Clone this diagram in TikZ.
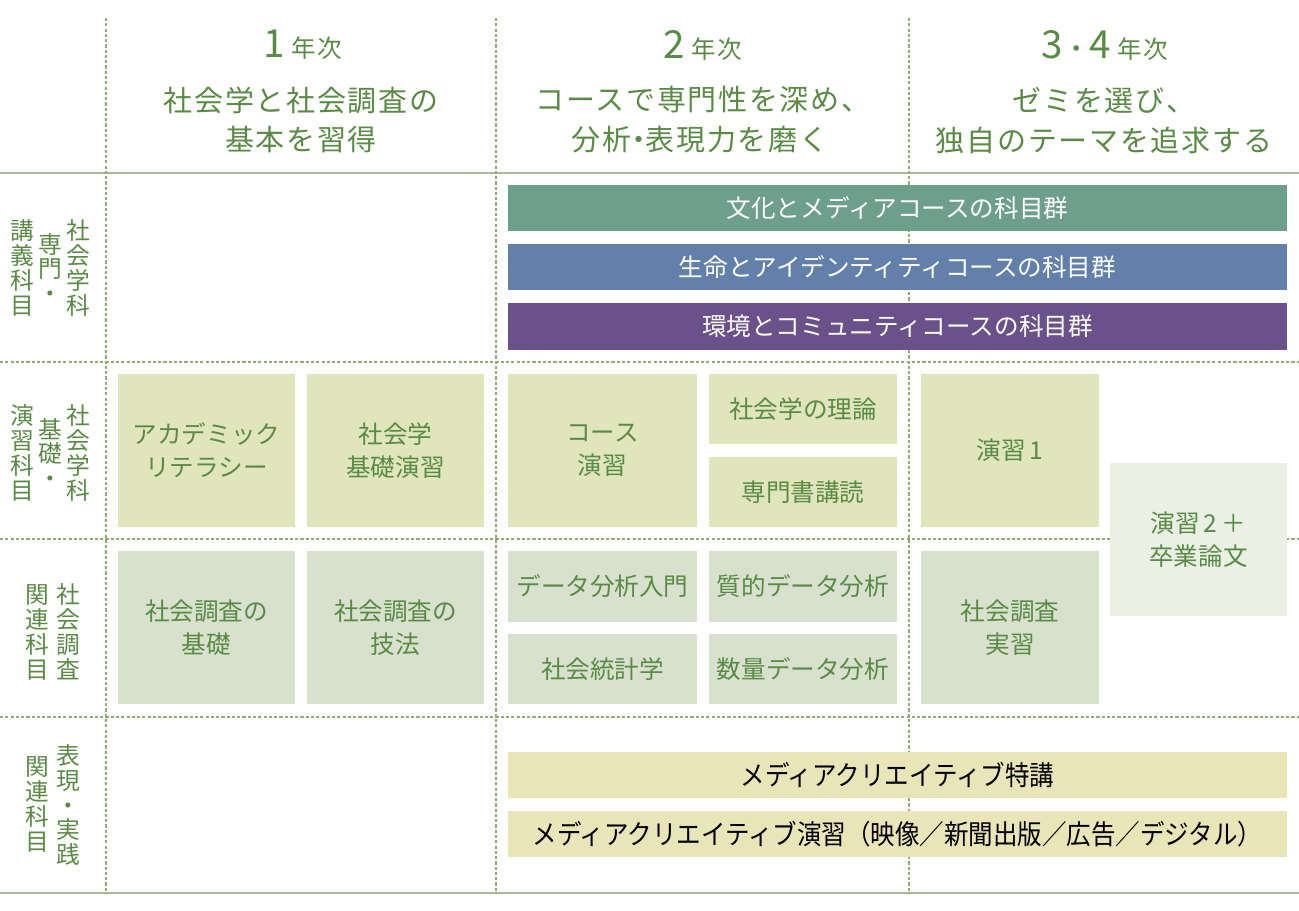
\documentclass[tikz,border=0pt]{standalone}
\usepackage{fontspec}
\setmainfont{Noto Sans CJK JP}
\newfontfamily\headfont[LetterSpace=6]{Noto Sans CJK JP}
\definecolor{txtgreen}{HTML}{5A8A46}
\definecolor{rulegreen}{HTML}{A7BB94}
\definecolor{gridgreen}{HTML}{8EAB76}
\definecolor{bunkac}{HTML}{6E9E8C}
\definecolor{seimeic}{HTML}{6380AA}
\definecolor{kankyoc}{HTML}{6A5189}
\definecolor{enshuc}{HTML}{E0E5BC}
\definecolor{chosac}{HTML}{D8E1CD}
\definecolor{sotsuc}{HTML}{EAF0E4}
\definecolor{mediac}{HTML}{E9E5B8}
\begin{document}
\begin{tikzpicture}[x=0.02cm,y=-0.02cm,
		rule/.style={draw=rulegreen,line width=1.1pt},
		grid/.style={draw=gridgreen,line width=0.6pt,dash pattern=on 1.8pt off 1.2pt},
		sz/.style 2 args={minimum width=#1*0.02cm,minimum height=#2*0.02cm},
		box/.style={fill=#1,text=txtgreen,align=center,inner sep=0pt,font=\fontsize{14}{18.7}\selectfont},
		bar/.style={fill=#1,text=white,inner sep=0pt,font=\fontsize{14}{14}\selectfont},
		lbl/.style={text=txtgreen,align=center,inner sep=0pt,font=\fontsize{13.5}{14.2}\selectfont},
		head/.style={text=txtgreen,inner sep=0pt,font=\headfont\fontsize{16.5}{16.5}\selectfont}]
		\useasboundingbox (0,0) rectangle (1299,910);
		% grid
		\draw[rule] (0,173) -- (1299,173);
		\draw[rule] (0,893) -- (1299,893);
		\draw[grid] (0,362) -- (1299,362);
		\draw[grid] (0,539) -- (1299,539);
		\draw[grid] (0,717) -- (1299,717);
		\draw[grid] (106,18) -- (106,893);
		\draw[grid] (496,18) -- (496,893);
		\draw[grid] (909,18) -- (909,893);
		% years
		\node[head] (y1) at (303,45) {\fontsize{22}{22}\selectfont 1\,\fontsize{14}{14}\selectfont 年次};
		\node[head] (y1a) at (301,100) {社会学と社会調査の};
		\node[head] (y1b) at (301,140) {基本を習得};
		\node[head] (y2) at (703,45) {\fontsize{22}{22}\selectfont 2\,\fontsize{14}{14}\selectfont 年次};
		\node[head] (y2a) at (703,100) {コースで専門性を深め、};
		\node[head] (y2b) at (700,140) {分析\kern-0.25em・\kern-0.25em表現力を磨く};
		\node[head] (y3) at (1105,45) {\fontsize{22}{22}\selectfont 3\fontsize{15}{15}\selectfont ・\fontsize{22}{22}\selectfont 4\,\fontsize{14}{14}\selectfont 年次};
		\node[head] (y3a) at (1104,100) {ゼミを選び、};
		\node[head] (y3b) at (1104,140) {独自のテーマを追求する};
		% row labels
		\node[lbl] (l1a) at (78,268) {社\\会\\学\\科};
		\node[lbl] (l1b) at (50,268) {専\\門\\・};
		\node[lbl] (l1c) at (22,268) {講\\義\\科\\目};
		\node[lbl] (l2a) at (78,453) {社\\会\\学\\科};
		\node[lbl] (l2b) at (50,453) {基\\礎\\・};
		\node[lbl] (l2c) at (22,453) {演\\習\\科\\目};
		\node[lbl] (l3a) at (68,632) {社\\会\\調\\査};
		\node[lbl] (l3b) at (37,632) {関\\連\\科\\目};
		\node[lbl] (l4a) at (68,805) {表\\現\\・\\実\\践};
		\node[lbl] (l4b) at (37,804) {関\\連\\科\\目};
		% courses
		\node[bar=bunkac,sz={779}{46}] (bunka) at (897.5,208) {文化とメディアコースの科目群};
		\node[bar=seimeic,sz={779}{46}] (seimei) at (897.5,267) {生命とアイデンティティコースの科目群};
		\node[bar=kankyoc,sz={779}{47}] (kankyo) at (897.5,326.5) {環境とコミュニティコースの科目群};
		% kiso
		\node[box=enshuc,sz={177}{153}] (acad) at (206.5,450.5) {アカデミック\\リテラシー};
		\node[box=enshuc,sz={177}{153}] (kiso) at (395.5,450.5) {社会学\\基礎演習};
		\node[box=enshuc,sz={189}{153}] (course) at (602.5,450.5) {コース\\演習};
		\node[box=enshuc,sz={188}{70}] (riron) at (803,409) {社会学の理論};
		\node[box=enshuc,sz={188}{70}] (dokkai) at (803,492) {専門書講読};
		\node[box=enshuc,sz={178}{153}] (enshu1) at (1010,450.5) {演習\,1};
		\node[box=sotsuc,sz={177}{153}] (sotsu) at (1198.5,539.5) {演習\,2\,＋\\卒業論文};
		% chosa
		\node[box=chosac,sz={177}{153}] (chosa) at (206.5,627.5) {社会調査の\\基礎};
		\node[box=chosac,sz={177}{153}] (giho) at (395.5,627.5) {社会調査の\\技法};
		\node[box=chosac,sz={189}{71}] (data) at (602.5,586.5) {データ分析入門};
		\node[box=chosac,sz={189}{70}] (toukei) at (602.5,669) {社会統計学};
		\node[box=chosac,sz={188}{71}] (situ) at (803,586.5) {質的データ分析};
		\node[box=chosac,sz={188}{70}] (suryo) at (803,669) {数量データ分析};
		\node[box=chosac,sz={178}{153}] (jisshu) at (1010,627.5) {社会調査\\実習};
		% media
		\node[bar=mediac,text=black,sz={779}{46}] (tokko) at (897.5,775) {\scalebox{0.9}[1]{\fontsize{15.5}{15.5}\selectfont メディアクリエイティブ特講}};
		\node[bar=mediac,text=black,sz={779}{46}] (mcenshu) at (897.5,834) {\scalebox{0.9}[1]{\fontsize{15.5}{15.5}\selectfont メディアクリエイティブ演習（映像／新聞出版／広告／デジタル）}};
	\end{tikzpicture}
\end{document}
